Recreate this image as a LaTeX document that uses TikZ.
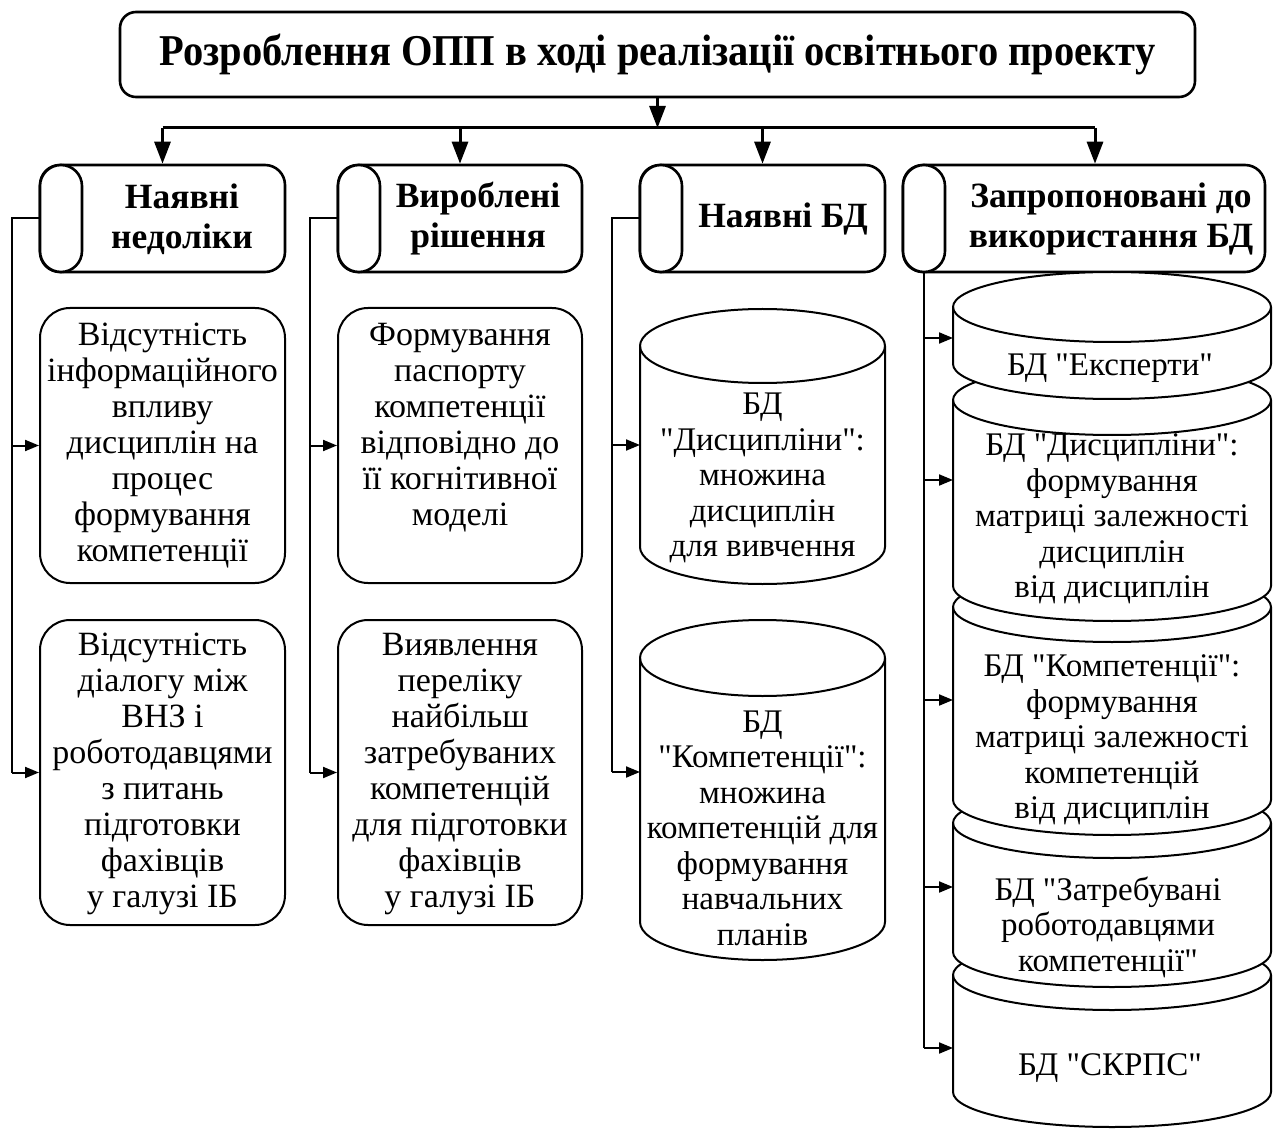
\documentclass[tikz,border=0pt]{standalone}
\usepackage{graphicx}
\usepackage{fontspec}
\setmainfont{Liberation Serif}[Ligatures=TeXOff]
\usetikzlibrary{arrows.meta}

% white-filled database drum: x1, x2, top ellipse centre y, bottom ellipse centre y, y radius
\newcommand\dbdrum[5]{%
  \pgfmathsetmacro\drumrx{(#2-#1)/2}%
  \draw[thinline, fill=white] (#1,#3) -- (#1,#4)
     arc[start angle=180, end angle=360, x radius=\drumrx pt, y radius=#5pt]
     -- (#2,#3)
     arc[start angle=0, end angle=180, x radius=\drumrx pt, y radius=#5pt] -- cycle;
  \draw[thinline] (#1,#3) arc[start angle=180, end angle=360, x radius=\drumrx pt, y radius=#5pt];
}

\begin{document}
\begin{tikzpicture}[x=1pt, y=-1pt,
  frame/.style={draw=black, line width=2.6pt, fill=white},
  thinline/.style={draw=black, line width=2pt},
  bigarrow/.style={line width=3pt, -{Triangle[length=22pt,width=16pt]}},
  sidearrow/.style={line width=2pt, -{Triangle[length=14pt,width=11pt]}},
  hdrbox/.style={frame, rounded corners=20pt, minimum height=107pt, inner sep=0pt},
  hdrcap/.style={frame, rounded corners=21pt, minimum width=42pt, minimum height=107pt, inner sep=0pt},
  hdrtxt/.style={font=\fontsize{35.5}{40}\selectfont\bfseries, align=center, inner sep=0pt},
  itembox/.style={thinline, rounded corners=30pt, minimum width=245pt, inner sep=0pt},
  boxtxt/.style={font=\fontsize{34}{36}\selectfont, align=center, inner sep=0pt},
  dbtxt/.style={font=\fontsize{33}{35.5}\selectfont, align=center, inner sep=0pt},
]
\useasboundingbox[fill=white] (0,0) rectangle (1277,1131);

% title
\node[frame, rounded corners=16pt, minimum width=1075pt, minimum height=85pt,
      font=\fontsize{44}{44}\selectfont\bfseries] (title) at (657.5,54.5)
      {\scalebox{0.92}[1]{Розроблення ОПП в ході реалізації освітнього проекту}};

% headers
\node[hdrbox, minimum width=245pt] (h1) at (162.5,218.5) {};
\node[hdrcap] (h1cap) at (61,218.5) {};
\node[hdrtxt] (h1t) at (182,219) {Наявні\\недоліки};

\node[hdrbox, minimum width=244pt] (h2) at (460,218.5) {};
\node[hdrcap] (h2cap) at (359,218.5) {};
\node[hdrtxt] (h2t) at (478,219) {Вироблені\\рішення};

\node[hdrbox, minimum width=245pt] (h3) at (762.5,218.5) {};
\node[hdrcap] (h3cap) at (661,218.5) {};
\node[hdrtxt] (h3t) at (783,219) {Наявні БД};

\node[hdrbox, minimum width=362pt] (h4) at (1084,218.5) {};
\node[hdrcap] (h4cap) at (924,218.5) {};
\node[hdrtxt] (h4t) at (1111,219) {Запропоновані до\\використання БД};

% distribution bus
\coordinate (bus) at (657.5,128);
\coordinate (j4) at (1095,128);
\draw[bigarrow] (title.south) -- (bus);
\draw[line width=3pt] (h1.north |- bus) -- (j4);
\draw[bigarrow] (h1.north |- bus) -- (h1.north);
\draw[bigarrow] (h2.north |- bus) -- (h2.north);
\draw[bigarrow] (h3.north |- bus) -- (h3.north);
\draw[bigarrow] (j4) -- (j4 |- h4.north);

% column 1
\node[itembox, minimum height=275pt] (b1a) at (162.5,445.5) {};
\node[boxtxt] (b1at) at (162.5,446) {Відсутність\\інформаційного\\впливу\\дисциплін на\\процес\\формування\\компетенції};
\node[itembox, minimum height=305pt] (b1b) at (162.5,772.5) {};
\node[boxtxt] (b1bt) at (162.5,774) {Відсутність\\діалогу між\\ВНЗ і\\роботодавцями\\з питань\\підготовки\\фахівців\\у галузі ІБ};
\coordinate (v1) at (12,218.5);
\draw[thinline] (h1cap.west) -- (v1) -- (v1 |- b1b.west);
\draw[sidearrow] (v1 |- b1a.west) -- (b1a.west);
\draw[sidearrow] (v1 |- b1b.west) -- (b1b.west);

% column 2
\node[itembox, minimum width=244pt, minimum height=275pt] (b2a) at (460,445.5) {};
\node[boxtxt] (b2at) at (460,428) {Формування\\паспорту\\компетенції\\відповідно до\\її когнітивної\\моделі};
\node[itembox, minimum width=244pt, minimum height=305pt] (b2b) at (460,772.5) {};
\node[boxtxt] (b2bt) at (460,774) {Виявлення\\переліку\\найбільш\\затребуваних\\компетенцій\\для підготовки\\фахівців\\у галузі ІБ};
\coordinate (v2) at (310,218.5);
\draw[thinline] (h2cap.west) -- (v2) -- (v2 |- b2b.west);
\draw[sidearrow] (v2 |- b2a.west) -- (b2a.west);
\draw[sidearrow] (v2 |- b2b.west) -- (b2b.west);

% column 3: existing databases
\dbdrum{640}{885}{346}{547}{37}
\node[dbtxt] (c3a) at (762.5,478) {БД\\"Дисципліни":\\множина\\дисциплін\\для вивчення};
\dbdrum{640}{885}{658}{922}{38}
\node[dbtxt] (c3b) at (762.5,828) {БД\\"Компетенції":\\множина\\компетенцій для\\формування\\навчальних\\планів};
\coordinate (v3) at (612,218.5);
\coordinate (c3ain) at (640,445);
\coordinate (c3bin) at (640,772);
\draw[thinline] (h3cap.west) -- (v3) -- (v3 |- c3bin);
\draw[sidearrow] (v3 |- c3ain) -- (c3ain);
\draw[sidearrow] (v3 |- c3bin) -- (c3bin);

% column 4: proposed databases, stacked back to front
\dbdrum{953}{1271}{975}{1092}{35}
\dbdrum{953}{1271}{823}{952}{35}
\dbdrum{953}{1271}{607}{800}{35}
\dbdrum{953}{1271}{400}{586}{35}
\dbdrum{953}{1271}{307}{364}{35}
\node[dbtxt] (k1) at (1110,368) {БД "Експерти"};
\node[dbtxt] (k2) at (1112,519) {БД "Дисципліни":\\формування\\матриці залежності\\дисциплін\\від дисциплін};
\node[dbtxt] (k3) at (1112,740) {БД "Компетенції":\\формування\\матриці залежності\\компетенцій\\від дисциплін};
\node[dbtxt] (k4) at (1108,927) {БД "Затребувані\\роботодавцями\\компетенції"};
\node[dbtxt] (k5) at (1110,1068) {БД "СКРПС"};

\coordinate (k1in) at (953,338);
\coordinate (k2in) at (953,480);
\coordinate (k3in) at (953,700);
\coordinate (k4in) at (953,887);
\coordinate (k5in) at (953,1048);
\draw[thinline] (h4cap.south) -- (h4cap.south |- k5in);
\foreach \k in {k1in,k2in,k3in,k4in,k5in}
  \draw[sidearrow] (h4cap.south |- \k) -- (\k);
\end{tikzpicture}
\end{document}
